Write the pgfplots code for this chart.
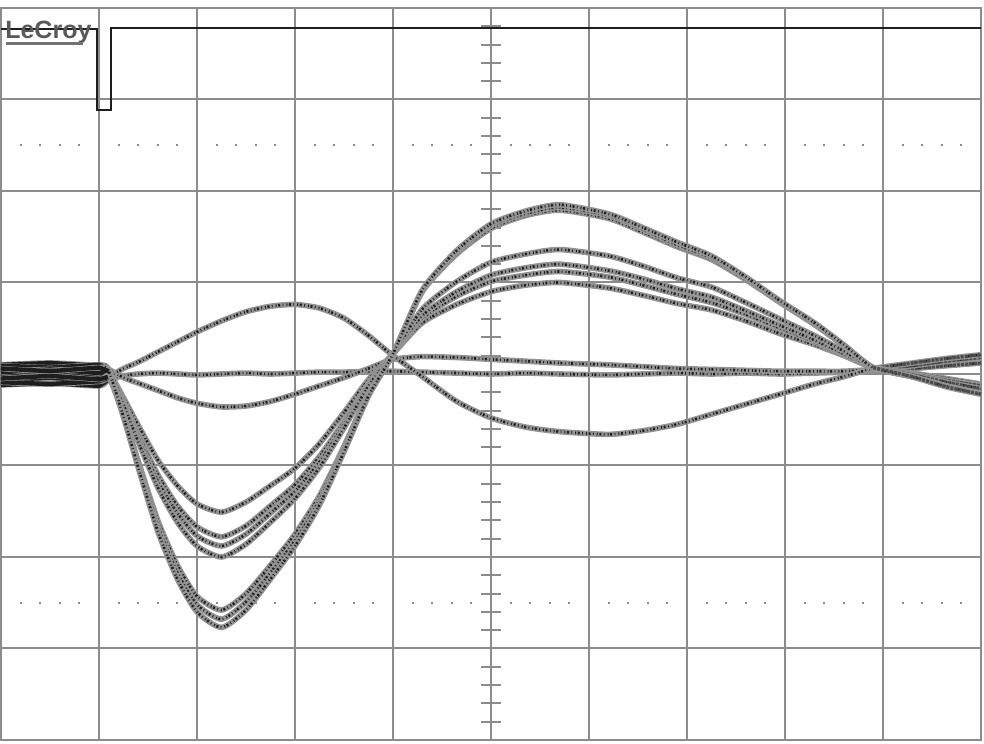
\documentclass[border=0pt]{standalone}
\usepackage{pgfplots}
\pgfplotsset{compat=1.18}
\usepackage{pgfplotstable}
\usepackage{fontspec}
\setmainfont{Liberation Sans}

\definecolor{scopegrid}{HTML}{8C8C8C}
\definecolor{tracelight}{HTML}{939393}
\definecolor{tracedark}{HTML}{1E1E1E}

% x in divisions, traces in divisions
\pgfplotstableread{
x     c1    c2    c3    c4    c5    c6    c7    b1    b2    b3
0     0.06 -0.05  0.02 -0.09  0.09 -0.02  0.04 -0.07  0.10 -0.12
0.5   0.03 -0.02  0.05 -0.11  0.07  0.01  0.06 -0.04  0.12 -0.10
1.0   0.07 -0.06  0.01 -0.08  0.10 -0.03  0.03 -0.08  0.09 -0.13
1.1   0.03 -0.03  0.01 -0.04  0.05 -0.01  0.02 -0.03  0.05 -0.06
1.25 -0.47 -0.46 -0.44 -0.34 -0.32 -0.30 -0.26  0.06 -0.04 -0.02
1.4  -1.02 -0.99 -0.95 -0.74 -0.70 -0.66 -0.56  0.13 -0.10  0.00
1.6  -1.72 -1.66 -1.60 -1.24 -1.17 -1.10 -0.94  0.24 -0.18  0.01
1.8  -2.24 -2.17 -2.09 -1.62 -1.52 -1.44 -1.22  0.35 -0.26  0.00
2.0  -2.60 -2.52 -2.43 -1.88 -1.77 -1.67 -1.42  0.46 -0.32 -0.01
2.25 -2.77 -2.68 -2.58 -2.00 -1.88 -1.78 -1.51  0.58 -0.36  0.00
2.5  -2.58 -2.49 -2.40 -1.86 -1.75 -1.66 -1.40  0.68 -0.35  0.01
2.75 -2.24 -2.17 -2.09 -1.62 -1.52 -1.44 -1.22  0.74 -0.30  0.00
3.0  -1.88 -1.82 -1.75 -1.36 -1.28 -1.21 -1.03  0.76 -0.22  0.01
3.25 -1.43 -1.38 -1.33 -1.02 -0.96 -0.90 -0.76  0.72 -0.13  0.02
3.5  -0.85 -0.82 -0.79 -0.59 -0.55 -0.52 -0.42  0.61 -0.04  0.02
3.75 -0.24 -0.23 -0.21 -0.13 -0.11 -0.10 -0.06  0.42  0.06  0.03
4.0   0.22  0.22  0.22  0.22  0.22  0.22  0.22  0.20  0.16  0.03
4.3   0.92  0.91  0.90  0.71  0.64  0.61  0.56 -0.03  0.19  0.02
4.65  1.35  1.33  1.31  1.01  0.90  0.85  0.76 -0.30  0.18  0.01
5.0   1.64  1.62  1.59  1.22  1.08  1.01  0.90 -0.48  0.16  0.00
5.35  1.78  1.75  1.73  1.31  1.16  1.08  0.97 -0.58  0.14  0.01
5.7   1.85  1.82  1.79  1.36  1.20  1.12  1.00 -0.63  0.12  0.00
6.2   1.75  1.73  1.70  1.29  1.13  1.06  0.94 -0.66  0.10 -0.01
6.55  1.60  1.58  1.55  1.18  1.04  0.97  0.86 -0.62  0.08  0.00
6.9   1.44  1.41  1.39  1.05  0.93  0.87  0.77 -0.55  0.06  0.01
7.25  1.29  1.27  1.25  0.95  0.84  0.78  0.70 -0.44  0.05  0.00
7.6   1.06  1.05  1.03  0.78  0.69  0.65  0.58 -0.33  0.04  0.01
7.95  0.80  0.79  0.78  0.60  0.53  0.50  0.44 -0.22  0.03  0.00
8.3   0.56  0.55  0.54  0.42  0.37  0.35  0.32 -0.11  0.03  0.01
8.6   0.32  0.31  0.31  0.25  0.22  0.21  0.20 -0.03  0.03  0.02
8.9   0.07  0.07  0.07  0.07  0.07  0.07  0.07  0.06  0.05  0.04
9.3  -0.03 -0.03 -0.03 -0.01  0.00  0.00  0.01  0.12  0.09  0.06
9.65 -0.14 -0.14 -0.13 -0.09 -0.07 -0.07 -0.05  0.17  0.14  0.09
10   -0.22 -0.22 -0.21 -0.16 -0.13 -0.12 -0.11  0.21  0.18  0.12
}\scope

\pgfplotsset{
    under/.style={tracelight, line width=2.8pt, smooth, tension=0.4, line join=round},
    over/.style={tracedark, line width=1.3pt, smooth, tension=0.4,
        dash pattern=on 0.5pt off 0.8pt on 1pt off 1.2pt on 0.4pt off 1.5pt},
    dense/.style={tracedark, line width=2.2pt, restrict x to domain=0:1.1},
    denseright/.style={black!70, line width=1.6pt, smooth, restrict x to domain=8.9:10,
        dash pattern=on 1.5pt off 0.6pt},
}
\newcommand{\trace}[1]{%
    \addplot[under] table[x=x, y=#1]{\scope};
    \addplot[over] table[x=x, y=#1]{\scope};
    \addplot[dense] table[x=x, y=#1]{\scope};
    \addplot[denseright] table[x=x, y=#1]{\scope};
}

\begin{document}
\begin{tikzpicture}
\begin{axis}[
    scale only axis,
    width=490pt, height=366pt,
    xmin=0, xmax=10, ymin=-4, ymax=4,
    xtick={0,1,...,10}, ytick={-4,-3,...,4},
    xticklabels={}, yticklabels={},
    major tick length=0pt,
    tick style={draw=none},
    grid=major,
    major grid style={scopegrid, line width=1pt},
    axis line style={scopegrid, line width=1pt},
    extra y ticks={-2.5,2.5},
    extra y tick labels={},
    extra y tick style={grid=major, major grid style={scopegrid, line width=1pt, dash pattern=on 1pt off 8.8pt, dash phase=0.5pt}},
    clip=true,
]
% centre graticule line with fifth-division ticks
\pgfplotsinvokeforeach{-3.8,-3.6,...,3.8}{\draw[scopegrid, line width=1pt] (axis cs:4.9,#1) -- (axis cs:5.1,#1);}

\trace{b3}
\trace{b2}
\trace{b1}
\trace{c7}
\trace{c6}
\trace{c5}
\trace{c4}
\trace{c3}
\trace{c2}
\trace{c1}

% trigger channel
\addplot[tracedark, line width=1.2pt] coordinates {(0,3.77) (0.98,3.77) (0.98,2.885) (1.12,2.885) (1.12,3.78) (10,3.78)};

\node[anchor=base west, inner sep=0pt, text=black!65, font=\fontsize{12.5}{14}\selectfont\bfseries] at (axis cs:0.04,3.67) {LeCroy};
\draw[black!55, line width=1.5pt] (axis cs:0.05,3.615) -- (axis cs:0.84,3.615);
\end{axis}
\pgfresetboundingbox
\path ([shift={(-0.5pt,-2pt)}]current axis.south west) rectangle ([shift={(1.5pt,4pt)}]current axis.north east);
\end{tikzpicture}
\end{document}
